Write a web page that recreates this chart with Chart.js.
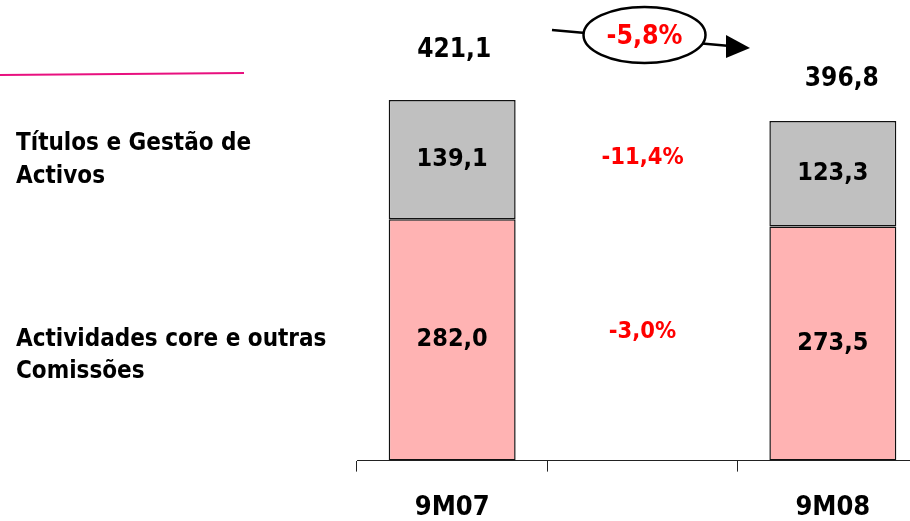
<!DOCTYPE html>
<html>
<head>
<meta charset="utf-8">
<script src="https://cdn.jsdelivr.net/npm/chart.js@4/dist/chart.umd.min.js"></script>
<style>
  html, body { margin: 0; padding: 0; background: #fff; overflow: hidden; }
  #wrap { position: relative; width: 910px; height: 521px; overflow: hidden; }
  #chart { position: absolute; left: 0; top: 0; }
</style>
</head>
<body>
<div id="wrap"><canvas id="chart" width="940" height="544"></canvas></div>
<script>
// commission income, 9M07 vs 9M08 (middle slot is left empty for the change labels)
const categories = ["9M07", "", "9M08"];
const coreValues = [282.0, null, 273.5];
const securitiesValues = [139.1, null, 123.3];
const coreLabel = ["Actividades core e outras", "Comissões"];
const securitiesLabel = ["Títulos e Gestão de", "Activos"];

const FONT = "'DejaVu Sans Condensed', 'DejaVu Sans', sans-serif";
const RED = "#ff0000";

function fmt(v, digits) {
  return v.toFixed(digits).replace(".", ",");
}

function pct(a, b) {
  const p = (b / a - 1) * 100;
  return fmt(p, 1) + "%";
}

const labelsPlugin = {
  id: "labels",
  afterDatasetsDraw(chart) {
    const ctx = chart.ctx;
    const core = chart.getDatasetMeta(0).data;
    const sec = chart.getDatasetMeta(1).data;
    const midX = chart.scales.x.getPixelForValue(1);

    ctx.save();
    ctx.textAlign = "center";
    ctx.textBaseline = "middle";
    ctx.fillStyle = "#000";
    ctx.font = "bold 25px " + FONT;

    // values inside the segments
    [0, 2].forEach((i) => {
      const c = core[i], s = sec[i];
      ctx.fillText(fmt(coreValues[i], 1), c.x, (c.y + c.base) / 2);
      ctx.fillText(fmt(securitiesValues[i], 1), s.x, (s.y + s.base) / 2);
    });

    // totals above the bars
    const totalOffsets = { 0: [2, -50], 2: [9, -42] };
    ctx.font = "bold 26px " + FONT;
    [0, 2].forEach((i) => {
      const s = sec[i];
      const total = coreValues[i] + securitiesValues[i];
      ctx.fillText(fmt(total, 1), s.x + totalOffsets[i][0], s.y + totalOffsets[i][1]);
    });

    // per-segment change between the two periods
    ctx.fillStyle = RED;
    ctx.font = "bold 23.5px " + FONT;
    const secMid = ((sec[0].y + sec[0].base) / 2 + (sec[2].y + sec[2].base) / 2) / 2;
    const coreMid = ((core[0].y + core[0].base) / 2 + (core[2].y + core[2].base) / 2) / 2;
    ctx.fillText(pct(securitiesValues[0], securitiesValues[2]), midX, secMid - 9);
    ctx.fillText(pct(coreValues[0], coreValues[2]), midX, coreMid - 10);

    // total change: arrow through an ellipse
    const t0 = coreValues[0] + securitiesValues[0];
    const t2 = coreValues[2] + securitiesValues[2];
    const ex = midX + 2, ey = 35;
    ctx.strokeStyle = "#000";
    ctx.lineWidth = 2.5;
    ctx.beginPath();
    ctx.moveTo(552, 30);
    ctx.lineTo(730, 46);
    ctx.stroke();
    ctx.fillStyle = "#000";
    ctx.beginPath();
    ctx.moveTo(750, 48);
    ctx.lineTo(726, 35);
    ctx.lineTo(726, 58);
    ctx.closePath();
    ctx.fill();
    ctx.beginPath();
    ctx.ellipse(ex, ey, 61, 28, 0, 0, Math.PI * 2);
    ctx.fillStyle = "#fff";
    ctx.fill();
    ctx.stroke();
    ctx.fillStyle = RED;
    ctx.font = "bold 26.5px " + FONT;
    ctx.fillText(pct(t0, t2), ex, ey + 2);

    // series names on the left
    ctx.fillStyle = "#000";
    ctx.textAlign = "left";
    ctx.textBaseline = "alphabetic";
    ctx.font = "bold 24px " + FONT;
    securitiesLabel.forEach((line, k) => ctx.fillText(line, 16, 150 + k * 33));
    coreLabel.forEach((line, k) => ctx.fillText(line, 16, 346 + k * 32));

    // pink rule at the top left
    ctx.strokeStyle = "#e8107f";
    ctx.lineWidth = 2;
    ctx.beginPath();
    ctx.moveTo(0, 75);
    ctx.lineTo(244, 73);
    ctx.stroke();
    ctx.restore();
  },
};

new Chart(document.getElementById("chart"), {
  type: "bar",
  data: {
    labels: categories,
    datasets: [
      {
        label: coreLabel.join(" "),
        data: coreValues,
        backgroundColor: "#ffb3b3",
        borderColor: "#111",
        borderWidth: 1.5,
        borderSkipped: false,
      },
      {
        label: securitiesLabel.join(" "),
        data: securitiesValues,
        backgroundColor: "#c0c0c0",
        borderColor: "#111",
        borderWidth: 1.5,
        borderSkipped: false,
      },
    ],
  },
  options: {
    responsive: false,
    animation: false,
    devicePixelRatio: 1,
    datasets: { bar: { categoryPercentage: 1, barPercentage: 0.667 } },
    layout: { padding: { left: 357, right: 12, top: 0, bottom: 0 } },
    plugins: { legend: { display: false }, tooltip: { enabled: false } },
    scales: {
      x: {
        stacked: true,
        grid: { display: true, drawOnChartArea: false, drawTicks: true, tickLength: 11, color: "#222", offset: true },
        border: { display: true, color: "#222", width: 1 },
        ticks: { color: "#000", padding: 20, font: { family: FONT, size: 27, weight: "bold" } },
      },
      y: { stacked: true, display: false, min: 0, max: 538 },
    },
  },
  plugins: [labelsPlugin],
});
</script>
</body>
</html>
